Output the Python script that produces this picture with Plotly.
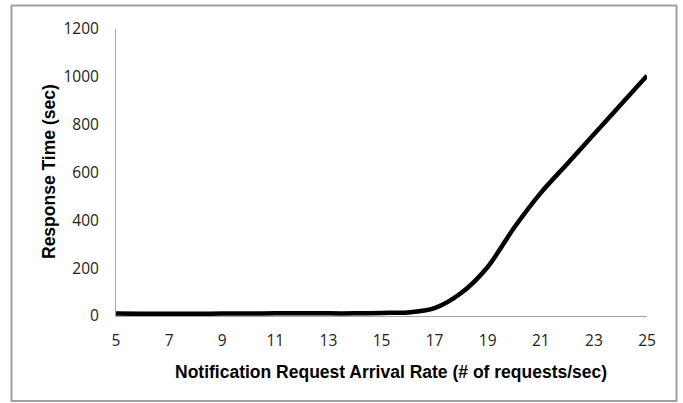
import plotly.graph_objects as go

arrival_rate = [5, 6, 7, 8, 9, 10, 11, 12, 13, 14, 15, 16, 17, 18, 19, 20, 21, 22, 23, 24, 25]
response_time = [10, 9, 9, 9, 10, 10, 11, 11, 11, 11, 13, 15, 33, 96, 205, 370, 515, 637, 760, 882, 1005]
x_ticks = [5, 7, 9, 11, 13, 15, 17, 19, 21, 23, 25]
y_ticks = [0, 200, 400, 600, 800, 1000, 1200]
x_title = "<b>Notification Request Arrival Rate (# of requests/sec)</b>"
y_title = "<b>Response Time (sec)</b>"

W, H = 683, 403
L, R, T, B = 116, 647, 29, 316  # plot area in pixels


def px(x):
    return (x - L) / (R - L)


def py(y):
    return (B - y) / (B - T)


fig = go.Figure()
fig.add_trace(go.Scatter(
    x=arrival_rate, y=response_time, mode="lines",
    line=dict(color="black", width=4.5, shape="spline", smoothing=0.8),
    showlegend=False,
))

tick_font = dict(family="Open Sans, Lato, sans-serif", size=15.5, color="#222")
title_font = dict(family="Liberation Sans, Arial, sans-serif", size=17.5, color="black")

fig.update_layout(
    width=W, height=H,
    margin=dict(l=L, r=W - R, t=T, b=H - B),
    paper_bgcolor="white", plot_bgcolor="white",
    xaxis=dict(
        range=[5, 25], tickvals=x_ticks, ticktext=[str(v) for v in x_ticks],
        showgrid=False, zeroline=False, showline=True, linecolor="#a6a6a6", linewidth=1,
        ticks="", tickfont=tick_font, ticklabelstandoff=10,
    ),
    yaxis=dict(
        range=[0, 1200], tickvals=y_ticks, ticktext=[str(v) for v in y_ticks],
        showgrid=False, zeroline=False, showline=True, linecolor="#a6a6a6", linewidth=1,
        ticks="", tickfont=tick_font, ticklabelstandoff=13,
    ),
    annotations=[
        dict(text=x_title, xref="paper", yref="paper", x=px(391), y=py(372),
             xanchor="center", yanchor="middle", showarrow=False, font=title_font),
        dict(text=y_title, xref="paper", yref="paper", x=px(49), y=py(172),
             xanchor="center", yanchor="middle", textangle=-90, showarrow=False, font=title_font),
    ],
    shapes=[dict(
        type="rect", xref="paper", yref="paper",
        x0=px(11.5), x1=px(676.5), y0=py(401), y1=py(5.5),
        line=dict(color="#a0a0a0", width=2), fillcolor="rgba(0,0,0,0)", layer="below",
    )],
)

fig.write_html("out.html")
